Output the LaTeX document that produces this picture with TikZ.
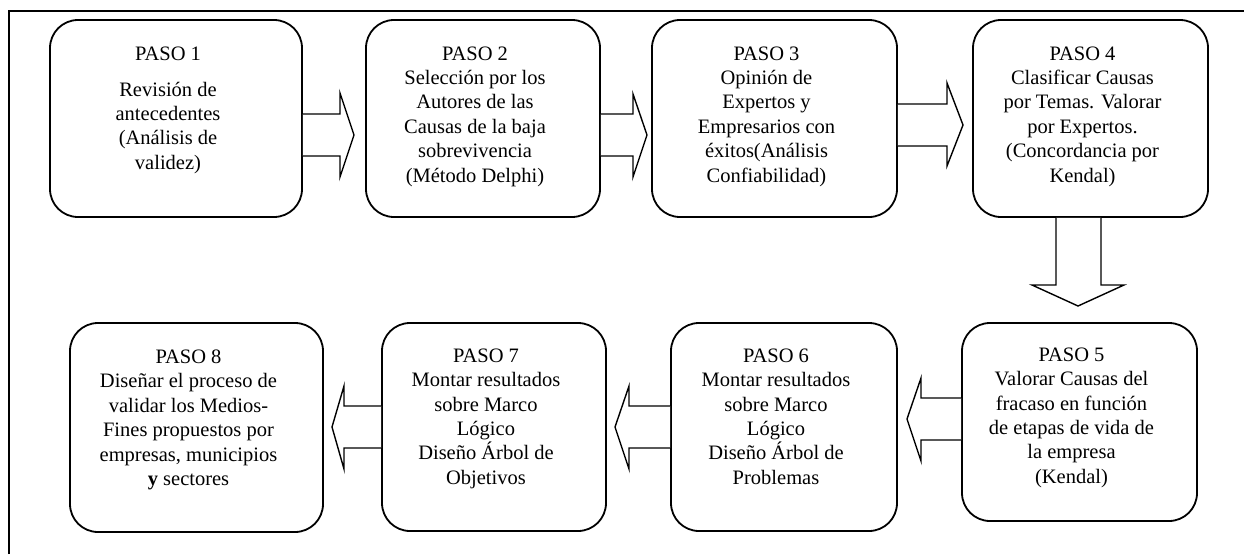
\documentclass[tikz,border=0pt]{standalone}
\usepackage{fontspec}
\setmainfont{Liberation Serif}
\begin{document}
\begin{tikzpicture}[x=1pt,y=-1pt,
  box/.style={draw,line width=1.8pt,rounded corners=28pt,inner sep=0pt},
  txt/.style={align=center,inner sep=0pt,anchor=north,font=\fontsize{20.5}{24.4}\selectfont},
  blk/.style={draw,line width=1.4pt,line join=miter,fill=white}]
\useasboundingbox (0,0) rectangle (1244,554);
% frame
\draw[line width=1.8pt] (9,554) -- (9,11) -- (1244,11);
% boxes
\node[box,minimum width=252pt,minimum height=197pt] (b1) at (176,118.5) {};
\node[box,minimum width=234pt,minimum height=197pt] (b2) at (483,118.5) {};
\node[box,minimum width=245pt,minimum height=197pt] (b3) at (774.5,118.5) {};
\node[box,minimum width=235pt,minimum height=197pt] (b4) at (1090.5,118.5) {};
\node[box,minimum width=235pt,minimum height=198pt] (b5) at (1079.5,422) {};
\node[box,minimum width=226pt,minimum height=208pt] (b6) at (784,427) {};
\node[box,minimum width=224pt,minimum height=208pt] (b7) at (494,427) {};
\node[box,minimum width=253pt,minimum height=209pt] (b8) at (196.5,427.5) {};
% texts
\node[txt] (t1) at (168,46.4) {PASO 1\\[11.5pt]Revisión de\\antecedentes\\(Análisis de\\validez)};
\node[txt] (t2) at (475,46.4) {PASO 2\\Selección por los\\Autores de las\\Causas de la baja\\sobrevivencia\\(Método Delphi)};
\node[txt] (t3) at (766.5,46.4) {PASO 3\\Opinión de\\Expertos y\\Empresarios con\\éxitos(Análisis\\Confiabilidad)};
\node[txt] (t4) at (1082.5,46.4) {PASO 4\\Clasificar Causas\\por Temas. Valorar\\por Expertos.\\(Concordancia por\\Kendal)};
\node[txt] (t5) at (1071.5,347.6) {PASO 5\\Valorar Causas del\\fracaso en función\\de etapas de vida de\\la empresa\\(Kendal)};
\node[txt] (t6) at (776,348.6) {PASO 6\\Montar resultados\\sobre Marco\\Lógico\\Diseño Árbol de\\Problemas};
\node[txt] (t7) at (486,348.6) {PASO 7\\Montar resultados\\sobre Marco\\Lógico\\Diseño Árbol de\\Objetivos};
\node[txt] (t8) at (188.5,349.6) {PASO 8\\Diseñar el proceso de\\validar los Medios-\\Fines propuestos por\\empresas, municipios\\\textbf{y} sectores};
% block arrows
\draw[blk] (b1.east |- 0,114) -- (340,114) -- (340,93) -- (354,135) -- (340,177) -- (340,156) -- (b1.east |- 0,156);
\draw[blk] (b2.east |- 0,114) -- (633,114) -- (633,94) -- (647,135) -- (633,177) -- (633,156) -- (b2.east |- 0,156);
\draw[blk] (b3.east |- 0,104) -- (947,104) -- (947,83) -- (963,125) -- (947,166) -- (947,146) -- (b3.east |- 0,146);
\draw[blk] (b4.south -| 1056,0) -- (1056,285) -- (1032,285) -- (1078,306) -- (1124,285) -- (1101,285) -- (b4.south -| 1101,0);
\draw[blk] (b5.west |- 0,398) -- (921,398) -- (921,378) -- (907,419) -- (921,461) -- (921,440) -- (b5.west |- 0,440);
\draw[blk] (b6.west |- 0,406) -- (629,406) -- (629,386) -- (615,427) -- (629,469) -- (629,448) -- (b6.west |- 0,448);
\draw[blk] (b7.west |- 0,406) -- (344,406) -- (344,386) -- (332,427) -- (344,469) -- (344,448) -- (b7.west |- 0,448);
\end{tikzpicture}
\end{document}
